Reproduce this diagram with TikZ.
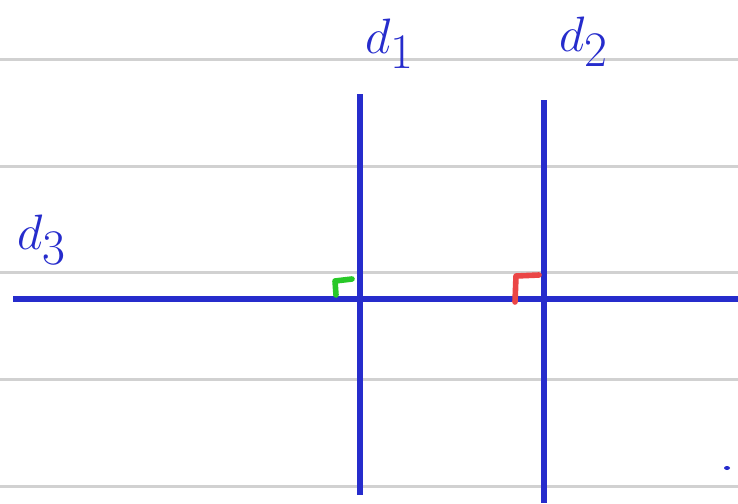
\documentclass[tikz,border=0pt]{standalone}
\usetikzlibrary{positioning}
\definecolor{inkblue}{RGB}{38,44,204}
\definecolor{inkgreen}{RGB}{40,200,40}
\definecolor{inkred}{RGB}{235,70,70}
\begin{document}
\begin{tikzpicture}[x = 0.5pt, y = -0.5pt,
  rule/.style = {line width = 1.5pt, black!18},
  droite/.style = {line width = 2.6pt, inkblue},
  anglemark/.style = {line width = 2.8pt, line cap = round, line join = round},
  lbl/.style = {inkblue, inner sep = 0pt, font = \fontsize{35}{42}\selectfont}]
\useasboundingbox (0, 0) rectangle (738, 503);

% the ruled paper
\foreach \y in {59, 166, 272, 379, 486}
  \draw[rule] (0, \y) -- (738, \y);

% the three lines
\coordinate (d1top) at (360, 94);
\coordinate (d1bot) at (360, 495);
\coordinate (d2top) at (544, 100);
\coordinate (d2bot) at (544, 503);
\coordinate (d3left) at (13, 299);
\coordinate (d3right) at (738, 299);
\draw[droite] (d1top) -- (d1bot);
\draw[droite] (d2top) -- (d2bot);
\draw[droite] (d3left) -- (d3right);

% names
\node[lbl] (n1) at (390, 44) {$d_1$};
\node[lbl] (n2) at (584, 42) {$d_2$};
\node[lbl] (n3) at (42, 240) {$d_3$};

% right angles
\draw[anglemark, inkgreen] (336, 295) -- (335, 281) -- (352, 279);
\draw[anglemark, inkred] (515, 302) -- (516, 276) -- (539, 275);

\fill[inkblue] (727, 468) ellipse (3 and 2);
\end{tikzpicture}
\end{document}
